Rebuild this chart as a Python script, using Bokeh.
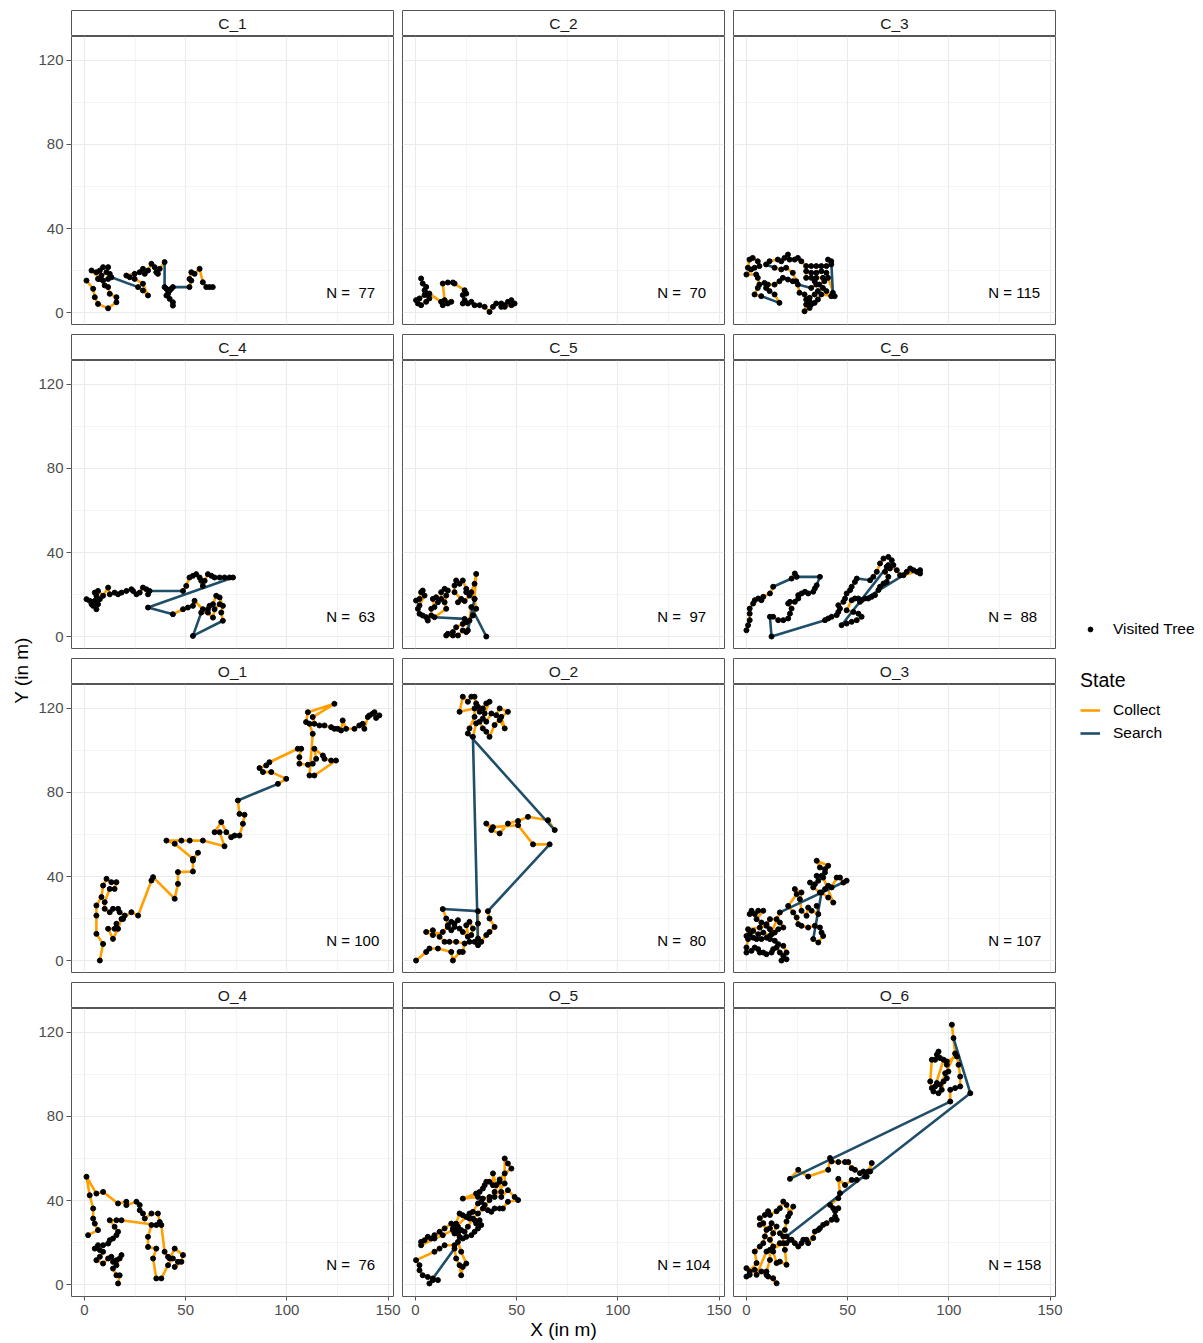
import numpy as np
from bokeh.plotting import figure
from bokeh.models import Range1d, FixedTicker, Legend, LegendItem
from bokeh.layouts import row, column
from bokeh.embed import file_html
from bokeh.resources import INLINE
from bokeh.core.properties import value

# ---------------- data ----------------
PANEL_NAMES = ["C_1", "C_2", "C_3", "C_4", "C_5", "C_6",
               "O_1", "O_2", "O_3", "O_4", "O_5", "O_6"]
N_TREES = [77, 70, 115, 63, 97, 88, 100, 80, 107, 76, 104, 158]
X_TICKS = [0, 50, 100, 150]
X_MINOR = [25, 75, 125]
Y_TICKS = [0, 40, 80, 120]
Y_MINOR = [20, 60, 100]
STATE_LABELS = ["Collect", "Search"]
POINT_LABEL = "Visited Tree"

# tracks: x, y of visited trees in order; *_search = indices i where the step i -> i+1 is "Search"
C1_x = [1.0,4.3,5.1,6.7,11.7,15.8,15.8,12.5,11.7,10.0,7.6,3.5,5.9,7.6,9.2,11.7,10.9,8.4,6.7,9.2,11.7,12.5,13.3,26.5,28.9,31.4,28.9,24.8,22.4,20.7,24.8,27.3,28.9,29.8,31.4,33.1,34.7,35.5,36.3,37.2,39.6,39.6,40.5,41.3,42.9,41.3,42.1,43.7,43.7,40.5,42.1,43.7,51.9,52.8,51.9,52.8,54.4,56.9,58.5,60.2,61.8,63.4]
C1_y = [15.2,11.3,7.3,4.1,2.0,4.9,7.3,8.9,12.1,12.9,16.0,20.0,19.2,20.0,21.6,21.6,19.2,17.6,16.0,15.2,16.0,18.4,16.8,12.1,10.5,8.1,13.7,16.0,16.8,17.6,18.4,19.2,20.8,18.4,20.0,23.2,21.6,19.2,18.4,20.8,24.0,12.1,11.3,10.5,11.3,8.9,6.5,3.3,4.9,8.1,10.5,12.1,12.1,15.2,16.0,19.2,18.4,20.8,14.4,12.1,12.1,12.1]
C1_search = [22, 40, 51]

C2_x = [2.8,3.6,5.3,4.5,6.1,4.5,2.0,0.3,1.2,2.8,5.3,6.9,6.1,6.9,12.7,13.5,16.0,17.7,14.4,13.5,16.0,18.5,19.3,24.3,25.1,23.4,24.3,23.4,25.9,27.6,29.2,31.7,34.2,36.6,38.3,39.9,42.4,44.1,45.7,47.4,49.0,47.4,44.1,42.4]
C2_y = [16.2,13.8,12.2,10.6,9.0,8.3,6.7,5.9,4.3,3.5,5.1,6.7,8.3,9.0,5.1,3.5,4.3,5.1,5.9,13.8,14.3,14.3,13.8,10.6,9.0,8.3,5.9,4.3,4.3,5.1,3.5,3.5,2.7,0.3,2.7,4.3,4.3,3.5,5.1,5.9,4.3,3.5,2.7,2.7]
C2_search = []

C3_x = [0.7,1.5,3.1,5.6,6.4,4.0,2.3,0.0,4.8,5.6,6.4,5.6,4.0,7.3,16.3,13.9,11.4,9.7,8.9,10.6,13.9,16.3,18.0,20.5,22.9,24.6,22.9,19.6,17.2,13.9,9.7,11.4,15.5,17.2,18.8,20.5,21.3,23.8,25.4,27.1,29.5,32.0,34.5,37.0,39.5,41.9,40.3,41.9,42.7,41.9,39.5,37.8,35.3,33.7,31.2,29.5,28.7,26.2,25.4,32.0,34.5,33.7,36.0,38.5,37.8,34.5,32.0,29.5,29.5,32.0,34.5,37.0,39.5,40.3,43.6,37.0,35.3,33.7,32.0,31.2,28.7,29.5,31.2]
C3_y = [21.3,25.2,26.0,24.4,22.1,21.3,20.5,18.1,18.1,16.5,13.3,11.7,8.6,7.8,4.6,8.6,10.2,11.7,14.1,13.3,13.3,14.9,16.5,15.7,14.9,14.9,18.9,21.3,20.5,21.3,22.9,24.4,25.2,24.4,26.0,27.6,25.2,25.2,26.0,24.4,22.1,22.1,22.1,22.1,22.1,22.9,25.2,24.4,9.4,7.8,10.2,11.7,10.2,8.6,7.0,6.2,8.6,9.4,13.3,11.7,13.3,14.9,13.3,14.9,16.5,16.5,16.5,16.5,19.7,18.9,18.9,19.7,18.9,16.5,7.8,8.6,6.2,4.6,3.8,2.2,0.6,3.8,5.4]
C3_search = [13, 29, 47, 58]

C4_x = [1.0,2.6,3.5,4.3,5.9,6.7,5.1,7.6,5.9,5.1,6.7,9.2,11.7,12.5,14.9,16.6,18.3,20.7,23.2,24.0,25.7,27.3,28.9,30.6,31.4,32.2,48.7,50.3,51.9,53.6,55.2,56.9,57.7,58.5,59.4,61.0,62.7,64.3,66.8,69.2,71.7,73.4,31.4,43.7,48.7,51.1,53.6,54.4,58.5,61.0,61.8,63.5,65.1,66.8,68.4,67.6,68.4,53.6,57.7,61.0,63.5,64.3,66.8]
C4_y = [17.8,17.0,15.4,14.6,13.0,15.4,17.0,17.8,19.4,20.9,21.7,19.4,23.3,20.1,20.9,20.1,20.9,21.7,22.5,21.7,20.1,20.9,23.3,22.5,20.1,21.7,21.7,24.1,28.1,28.9,29.7,28.1,26.5,24.1,26.5,29.7,28.9,28.1,28.1,28.1,28.1,28.1,13.8,10.6,13.0,13.8,14.6,17.0,13.0,13.0,14.6,15.4,19.4,18.6,14.6,11.4,7.5,0.3,11.4,11.4,9.0,13.0,15.4]
C4_search = [25, 41, 42, 56, 57]

C5_x = [0.3,2.0,2.8,3.6,4.5,2.0,1.2,2.0,3.6,5.3,6.1,7.8,7.8,9.4,8.6,10.2,11.1,12.7,12.7,14.4,16.0,15.2,14.4,15.2,9.4,24.3,25.1,23.4,20.1,18.5,16.0,15.2,18.5,21.0,23.4,25.1,26.7,28.4,30.0,29.2,27.6,25.1,25.1,23.4,21.8,20.1,19.3,19.3,22.6,21.0,24.3,26.7,29.2,30.0,29.2,25.9,27.6,35.0]
C5_y = [17.1,17.9,21.1,21.9,19.5,14.8,13.2,10.8,10.0,9.2,7.6,10.0,13.2,14.0,17.9,18.7,16.3,17.9,21.1,22.7,21.9,19.5,16.3,13.2,9.2,8.4,6.8,6.0,4.4,2.1,1.3,0.5,0.5,0.5,2.9,2.1,7.6,10.0,13.2,17.9,21.1,21.1,22.7,26.7,25.1,26.7,24.3,21.1,17.9,16.3,16.9,19.5,25.1,29.8,17.9,2.9,14.0,0.0]
C5_search = [24, 54, 56]

C6_x = [0.0,0.8,1.6,1.6,1.6,3.3,4.1,5.8,7.4,8.3,11.6,13.2,22.3,23.9,24.8,36.3,34.7,33.8,33.0,30.5,28.9,27.2,25.6,25.6,23.9,21.5,20.6,22.3,21.5,20.6,18.2,15.7,13.2,11.6,12.4,38.8,40.4,42.1,44.6,45.4,46.2,45.4,47.9,48.7,49.5,51.2,52.0,53.6,54.5,61.1,62.7,64.4,66.0,67.7,70.1,71.8,72.6,70.9,69.3,68.5,70.1,69.3,67.7,66.0,65.2,63.5,61.9,60.2,58.6,56.9,55.3,53.6,52.0,49.5,52.8,55.3,56.9,54.5,52.0,49.5,47.0,70.1,74.3,75.9,79.2,80.9,82.5,84.2,85.8,85.8,77.6,56.1]
C6_y = [3.0,5.4,7.8,10.9,13.3,15.7,17.3,18.1,17.3,18.9,20.5,23.7,27.6,30.0,28.4,28.4,24.4,22.9,21.3,20.5,21.3,20.5,19.7,18.1,16.5,16.5,15.7,13.3,10.9,8.6,7.8,7.8,9.4,9.4,0.0,7.8,8.6,9.4,10.2,11.7,13.3,14.9,16.5,18.1,20.5,22.1,23.7,26.0,27.6,26.8,28.4,30.8,34.8,37.1,37.9,36.3,34.0,32.4,33.2,30.8,28.4,26.0,25.2,23.7,22.1,19.7,18.9,18.1,18.1,17.3,18.1,18.1,17.3,12.5,11.7,10.9,9.4,7.8,7.0,6.2,5.4,34.0,31.6,29.2,30.8,32.4,31.6,30.8,30.0,31.6,29.2,16.5]
C6_search = [11, 14, 15, 33, 34, 48, 80, 90]

O1_x = [7.6,9.2,5.9,5.9,5.9,8.4,9.2,10.9,13.3,15.8,14.9,12.5,10.0,10.0,12.5,14.1,16.6,17.4,19.9,19.1,15.8,14.9,11.7,14.1,16.6,18.3,23.2,26.5,33.1,33.9,44.6,46.2,46.2,53.6,53.6,56.1,53.6,44.6,40.5,47.9,52.0,58.5,69.2,66.8,64.3,67.6,70.1,72.5,74.2,76.6,78.3,79.1,76.6,75.8,95.6,99.7,92.3,88.2,86.5,89.8,91.4,105.4,107.1,106.2,106.2,110.4,112.8,114.5,113.6,117.8,118.6,121.9,124.3,113.6,111.2,112.8,111.2,109.5,110.4,123.5,112.8,113.6,116.1,118.6,121.9,123.5,125.2,126.8,127.6,129.3,133.4,135.8,137.5,138.3,140.0,140.8,142.4,143.3,145.7,144.1]
O1_y = [0.0,7.9,12.7,21.4,26.2,30.2,35.7,38.9,37.3,37.3,34.1,34.1,27.8,24.6,23.0,24.6,24.6,23.0,21.4,19.8,17.5,15.1,15.1,10.3,15.1,19.8,23.0,21.4,38.1,39.7,29.4,36.5,42.1,42.4,47.6,51.3,48.4,55.6,57.1,57.1,57.1,57.1,54.4,61.1,61.1,65.9,61.1,58.7,59.5,59.5,65.1,69.4,69.8,76.2,84.1,86.5,89.7,89.7,91.6,92.9,94.4,100.8,100.8,96.8,93.7,93.2,93.7,96.0,100.8,97.6,96.0,95.2,95.2,88.1,88.1,107.9,112.7,113.5,118.2,122.2,115.9,112.7,111.9,111.9,111.1,110.3,110.3,109.5,114.3,110.3,110.3,111.9,112.7,110.3,115.9,116.7,117.5,118.2,116.7,115.5]
O1_search = [53]

O2_x = [0.3,5.3,6.9,11.1,17.7,18.5,21.8,23.4,24.3,20.1,16.8,14.4,11.9,8.6,5.3,8.6,13.5,16.0,17.7,19.3,21.8,23.4,25.9,27.6,28.4,26.7,25.1,26.7,29.2,30.9,
        28.4,30.0,31.7,33.3,35.0,36.6,39.1,41.6,44.1,42.4,45.7,41.6,39.9,37.5,35.0,33.3,34.2,36.6,35.0,33.3,31.7,30.9,30.0,29.2,27.6,25.9,23.4,21.8,29.2,29.2,26.7,25.9,
        68.8,65.5,55.6,50.7,45.7,41.6,37.5,35.0,38.3,50.7,58.1,66.3,
        35.8,36.6,39.1,36.6,35.0,32.5,30.9,30.9,30.9,13.5,15.2,16.0,17.7,19.3,21.0]
O2_y = [0.0,4.1,5.7,5.7,4.1,0.0,4.1,4.1,8.1,8.9,8.9,8.9,11.3,14.4,13.6,12.1,13.6,16.0,14.4,16.0,15.2,13.6,11.3,12.1,15.2,18.4,16.8,8.9,8.9,7.3,
        106.5,112.9,113.7,110.5,108.9,106.5,112.1,114.5,110.5,116.0,118.4,120.0,116.8,117.6,113.7,115.2,117.6,123.2,122.4,120.0,118.4,120.8,122.4,125.6,125.6,123.2,125.6,118.4,120.0,116.0,110.5,108.1,
        62.1,66.8,68.4,66.4,65.2,60.5,62.1,65.2,63.5,64.4,55.3,55.3,
        23.5,20.0,16.0,13.6,12.1,8.9,10.5,17.6,23.5,24.5,20.0,16.8,18.4,17.6,19.2]
O2_search = [29, 61, 73, 82]

O3_x = [1.6,2.5,4.1,5.8,8.3,5.0,7.4,9.9,11.6,12.4,14.0,15.7,18.2,16.5,14.9,11.6,9.9,6.6,0.8,0.0,0.8,0.0,0.0,2.5,4.1,5.8,6.6,8.3,9.9,12.4,13.2,14.9,16.5,18.2,19.8,17.3,19.8,18.2,15.7,14.0,11.6,9.9,7.4,5.0,3.3,1.6,3.3,5.8,8.3,11.6,16.5,49.5,47.9,46.2,44.6,42.1,40.4,38.8,36.3,33.0,31.4,33.8,35.5,34.7,37.1,38.8,38.8,36.3,34.7,40.4,37.9,42.9,40.4,37.1,33.0,35.5,37.9,37.1,36.3,33.8,30.5,27.2,25.6,24.8,23.1,20.6,24.8,23.9,27.2,26.4,27.2,29.7,30.5,32.2,35.5,34.7]
O3_y = [22.1,23.7,22.1,23.7,23.7,19.7,18.1,17.3,14.9,12.5,13.3,14.9,15.7,18.1,19.7,19.7,16.5,15.7,14.9,11.7,10.2,6.2,3.8,4.6,6.2,5.4,3.8,3.8,3.0,3.8,5.4,6.2,3.8,2.2,0.6,0.0,3.8,7.0,7.8,9.4,10.2,10.9,10.2,10.2,10.9,12.5,14.1,12.5,13.3,11.7,22.9,38.0,37.1,39.5,39.5,34.8,35.6,34.0,32.4,34.8,37.1,36.3,38.0,40.3,40.3,41.9,43.5,44.3,47.5,45.1,39.5,27.6,30.0,32.4,10.2,8.6,11.7,13.3,15.7,16.5,15.7,16.5,17.3,20.5,22.9,26.0,31.6,34.0,32.4,29.2,23.7,21.3,25.2,23.7,22.1,26.0]
O3_search = [50, 73]

O4_x = [1.8,6.7,5.1,4.3,4.3,2.6,1.0,5.9,9.2,16.6,20.7,20.7,25.7,27.3,27.3,28.9,29.8,33.1,36.3,37.2,38.0,39.6,41.3,42.1,44.6,48.7,47.9,44.6,46.2,43.7,41.3,38.0,35.5,33.9,35.5,31.4,31.4,33.1,35.5,18.3,15.8,12.5,14.9,16.6,15.8,14.1,12.5,11.7,9.2,6.7,5.1,7.6,9.2,7.6,5.9,9.2,11.7,13.3,14.1,15.8,17.4,18.3,15.8,14.1,15.8,17.4,16.6]
O4_y = [23.5,25.9,29.0,31.4,36.2,42.5,51.3,43.3,44.1,38.6,39.4,37.8,39.4,37.8,35.4,33.8,31.4,33.8,33.8,29.8,28.3,15.6,13.2,12.4,17.1,14.0,10.8,8.4,10.8,12.4,9.2,2.9,2.9,12.4,17.1,17.9,22.7,28.3,28.3,30.6,30.6,30.6,27.5,25.1,23.5,21.9,21.1,19.5,18.7,18.7,17.1,16.4,15.6,13.2,11.6,10.0,12.4,13.2,10.8,11.6,12.4,14.0,9.2,7.6,4.4,4.4,0.5]
O4_search = []

O5_x = [19.3,14.4,11.9,9.4,0.3,2.0,2.0,3.6,6.1,11.1,8.6,6.9,8.6,19.3,20.1,21.8,22.6,23.4,25.1,22.6,21.0,21.8,23.4,25.1,27.6,29.2,30.9,30.0,31.7,32.5,29.2,26.7,25.1,23.4,21.8,20.1,19.3,18.5,19.3,21.0,21.8,17.7,14.4,11.9,9.4,7.8,6.1,4.5,2.8,2.8,9.4,13.5,18.5,26.7,28.4,30.9,32.5,34.2,35.8,37.5,39.1,41.6,43.2,45.7,50.7,49.0,45.7,42.4,42.4,41.6,39.9,38.3,38.3,36.6,35.0,34.2,33.3,31.7,30.0,23.4,30.9,33.3,36.6,39.1,44.1,44.1,45.7,47.4,44.1,41.6,39.1,36.6,33.3,30.9,28.4,25.9,24.3,22.6,21.0,19.3]
O5_y = [18.7,18.7,17.1,15.6,11.6,9.2,6.8,4.4,3.6,2.1,2.1,0.5,2.9,17.1,12.4,9.2,4.4,8.4,10.0,15.6,20.3,22.7,21.9,22.7,23.5,25.1,26.7,29.0,30.6,28.3,30.6,31.4,32.2,33.0,33.8,29.0,28.3,26.7,24.3,24.3,25.9,29.0,26.7,25.1,23.5,21.9,22.7,21.1,20.3,18.7,21.9,23.5,25.9,33.8,34.6,38.6,39.4,37.8,35.4,34.6,36.2,36.2,36.2,39.4,40.2,41.7,44.9,41.7,44.1,48.9,47.3,52.9,47.3,48.9,48.9,47.3,45.7,44.1,43.3,40.9,41.7,40.9,41.7,41.7,48.1,60.0,57.6,55.2,52.9,50.0,44.1,40.2,36.2,33.8,31.4,27.5,25.1,25.9,27.5,25.9]
O5_search = [12]

O6_x = [0.0,1.6,4.1,0.0,1.6,5.0,4.1,6.6,8.3,9.1,9.9,8.3,6.6,9.1,10.7,11.6,14.9,16.5,18.2,19.8,21.5,20.6,23.1,19.8,19.0,16.5,18.2,18.2,19.0,19.8,16.5,14.9,13.2,11.6,11.6,9.9,10.7,14.9,13.2,9.9,7.4,5.0,9.9,22.3,23.9,25.6,27.2,28.1,29.7,30.5,33.0,33.8,35.5,36.3,37.9,39.6,42.1,44.6,43.8,43.8,45.4,42.9,41.3,45.4,46.2,45.4,48.7,52.0,54.5,58.6,61.1,61.9,60.2,59.4,57.8,56.1,53.6,52.0,50.3,48.7,45.4,42.1,41.3,40.4,30.5,25.6,21.5,100.7,100.7,103.1,105.6,105.6,104.8,104.0,99.0,99.0,99.8,98.2,99.0,97.4,96.5,94.9,92.4,91.6,90.8,91.6,93.2,94.1,94.9,95.7,97.4,93.2,94.1,95.7,103.1,101.5,102.3,110.6,19.8,21.5,19.8,16.5,13.2,11.6,13.2,14.9,12.4,11.6,6.6]
O6_y = [3.8,4.6,7.0,7.8,6.2,10.2,15.7,18.1,19.7,22.9,26.0,29.2,31.6,33.1,34.9,33.1,34.9,36.3,39.5,37.9,33.9,32.4,37.1,30.0,26.0,24.4,22.9,19.7,16.5,9.4,10.9,10.2,15.7,16.5,11.7,6.2,3.8,0.6,3.0,4.6,6.2,4.6,15.7,21.3,19.7,18.1,19.7,21.3,21.3,19.7,22.1,25.2,26.0,26.8,28.4,29.2,30.8,30.8,32.4,34.9,36.3,36.3,37.9,41.1,43.5,50.3,47.4,49.8,49.8,51.4,53.8,57.8,53.8,51.4,53.8,53.0,54.6,55.4,58.3,58.3,58.3,58.6,60.2,54.6,51.4,54.6,50.3,87.1,92.7,93.5,94.3,99.0,104.6,108.6,106.2,104.6,101.4,100.6,98.2,96.7,92.7,91.1,91.9,93.5,96.7,107.0,107.0,109.4,110.9,107.8,107.0,94.3,95.9,95.1,110.0,123.7,117.3,91.1,22.9,21.3,19.7,19.7,18.1,21.3,24.4,27.6,29.2,26.8,28.4]
O6_search = [86, 116, 117]

TRACKS = [(C1_x, C1_y, C1_search), (C2_x, C2_y, C2_search), (C3_x, C3_y, C3_search),
          (C4_x, C4_y, C4_search), (C5_x, C5_y, C5_search), (C6_x, C6_y, C6_search),
          (O1_x, O1_y, O1_search), (O2_x, O2_y, O2_search), (O3_x, O3_y, O3_search),
          (O4_x, O4_y, O4_search), (O5_x, O5_y, O5_search), (O6_x, O6_y, O6_search)]

# ---------------- style ----------------
FONT = "Liberation Sans"
COLORS = {"Collect": "#FFA000", "Search": "#1F4E69"}
LINE_W = 2.6
PT_SIZE = 5
BORDER = "#555555"
GRID = "#EBEBEB"

XLO, XHI = -6.4, 152.7
YLO, YHI = -5.7, 131.4
FW, FH, SH = 322, 288, 26
YLAB_W = 34
LEFT0 = 37          # room for y tick labels in the first column
COLGAP = 9          # gap between columns (right border of each column)
GAP = 10
TOP0 = 10
BOTTOM_LAST = 47
TOTAL_H = TOP0 + 4 * SH + 3 * (FH + GAP) + FH + BOTTOM_LAST


def runs(xs, ys, search):
    sset = set(search)
    out = {"Collect": ([], []), "Search": ([], [])}
    n = len(xs)
    i = 0
    while i < n - 1:
        st = "Search" if i in sset else "Collect"
        j = i
        while j < n - 1 and (("Search" if j in sset else "Collect") == st):
            j += 1
        out[st][0].append(list(xs[i:j + 1]))
        out[st][1].append(list(ys[i:j + 1]))
        i = j
    return out


def make_panel(i):
    r, c = divmod(i, 3)
    last = r == 3
    p = figure(frame_width=FW, frame_height=FH,
               x_range=Range1d(XLO, XHI), y_range=Range1d(YLO, YHI),
               x_axis_location="below" if last else None,
               y_axis_location="left" if c == 0 else None,
               output_backend="svg", toolbar_location=None,
               min_border_left=LEFT0 if c == 0 else 0, min_border_right=COLGAP,
               min_border_top=0, min_border_bottom=BOTTOM_LAST if last else GAP)
    p.background_fill_color = "white"
    p.border_fill_color = "white"
    p.outline_line_color = BORDER
    p.outline_line_width = 1
    p.xgrid.ticker = FixedTicker(ticks=X_TICKS, minor_ticks=X_MINOR)
    p.ygrid.ticker = FixedTicker(ticks=Y_TICKS, minor_ticks=Y_MINOR)
    p.grid.grid_line_color = GRID
    p.grid.grid_line_width = 1.1
    p.grid.minor_grid_line_color = GRID
    p.grid.minor_grid_line_width = 0.55
    if c == 0:
        ya = p.yaxis[0]
        ya.ticker = FixedTicker(ticks=Y_TICKS)
        ya.axis_line_color = None
        ya.major_tick_line_color = BORDER
        ya.major_tick_out = 5
        ya.major_tick_in = 0
        ya.minor_tick_out = 0
        ya.minor_tick_in = 0
        ya.major_label_standoff = 3
        ya.major_label_text_font = FONT
        ya.major_label_text_font_size = "15px"
        ya.major_label_text_color = "#4D4D4D"
    if last:
        xa = p.xaxis[0]
        xa.ticker = FixedTicker(ticks=X_TICKS)
        xa.axis_line_color = None
        xa.major_tick_line_color = BORDER
        xa.major_tick_out = 4
        xa.major_tick_in = 0
        xa.minor_tick_out = 0
        xa.minor_tick_in = 0
        xa.major_label_standoff = 4
        xa.major_label_text_font = FONT
        xa.major_label_text_font_size = "15px"
        xa.major_label_text_color = "#4D4D4D"
        if c == 1:
            xa.axis_label = "X (in m)"
            xa.axis_label_text_font = FONT
            xa.axis_label_text_font_size = "19px"
            xa.axis_label_text_font_style = "normal"
            xa.axis_label_text_color = "black"
            xa.axis_label_standoff = 1

    xs, ys, search = TRACKS[i]
    segs = runs(xs, ys, search)
    for st in STATE_LABELS:
        if segs[st][0]:
            p.multi_line(xs=segs[st][0], ys=segs[st][1], line_color=COLORS[st],
                         line_width=LINE_W, line_join="round", line_cap="round")
    p.scatter(x=xs, y=ys, size=PT_SIZE, fill_color="black", line_color="black")

    n = N_TREES[i]
    s = str(n)
    lab = "N = " + "\u00a0" * (3 - len(s)) + s
    p.text(x=[119.5], y=[9.5], text=[lab], text_font=value(FONT),
           text_font_size="15px", text_align="left", text_baseline="middle",
           text_color="black")
    return p


def make_strip(i):
    r, c = divmod(i, 3)
    s = figure(frame_width=FW, frame_height=SH,
               x_range=Range1d(0, 1), y_range=Range1d(0, 1),
               x_axis_location=None, y_axis_location=None,
               output_backend="svg", toolbar_location=None,
               min_border_left=LEFT0 if c == 0 else 0, min_border_right=COLGAP,
               min_border_top=TOP0 if r == 0 else 0, min_border_bottom=0)
    s.grid.visible = False
    s.background_fill_color = "white"
    s.border_fill_color = "white"
    s.outline_line_color = BORDER
    s.outline_line_width = 1
    s.text(x=[0.5], y=[0.5], text=[PANEL_NAMES[i]], text_font=value(FONT),
           text_font_size="15.5px", text_align="center", text_baseline="middle",
           text_color="#1A1A1A")
    return s


# y axis title
ylab = figure(width=YLAB_W, height=TOTAL_H, x_range=Range1d(0, YLAB_W), y_range=Range1d(0, TOTAL_H),
              x_axis_location=None, y_axis_location=None, min_border=0,
              output_backend="svg", toolbar_location=None)
ylab.grid.visible = False
ylab.outline_line_color = None
ylab.text(x=[21], y=[TOTAL_H - 670], text=["Y (in m)"], angle=np.pi / 2,
          text_font=value(FONT), text_font_size="19px", text_align="center",
          text_baseline="middle", text_color="black")

# legend area
LG_LEFT = YLAB_W + (LEFT0 + FW + COLGAP) + 2 * (FW + COLGAP)   # screen x of legend figure
LW = 1199 - LG_LEFT
lg = figure(width=LW, height=TOTAL_H, x_range=Range1d(0, 1), y_range=Range1d(0, 1),
            x_axis_location=None, y_axis_location=None, min_border=0,
            output_backend="svg", toolbar_location=None)
lg.grid.visible = False
lg.outline_line_color = None
# keys only: their data sit outside the visible range
r_pt = lg.scatter(x=[-5], y=[-5], size=PT_SIZE, fill_color="black", line_color="black")
r_c = lg.line(x=[-5, -4], y=[-5, -5], line_color=COLORS["Collect"], line_width=LINE_W)
r_s = lg.line(x=[-5, -4], y=[-5, -5], line_color=COLORS["Search"], line_width=LINE_W)

bottom_screen = TOTAL_H
leg1 = Legend(items=[LegendItem(label=POINT_LABEL, renderers=[r_pt])],
              location=(1084 - LG_LEFT, bottom_screen - 639), padding=0, margin=0,
              glyph_width=12, glyph_height=12, label_height=20, label_standoff=17,
              label_text_font=FONT, label_text_font_size="15.5px", label_text_color="black",
              border_line_color=None, background_fill_alpha=0)
leg2 = Legend(items=[LegendItem(label=STATE_LABELS[0], renderers=[r_c]),
                     LegendItem(label=STATE_LABELS[1], renderers=[r_s])],
              location=(1080 - LG_LEFT, bottom_screen - 743), padding=0, margin=0,
              title="State", title_text_font=FONT, title_text_font_size="19.5px",
              title_text_font_style="normal", title_text_color="black", title_standoff=8,
              glyph_width=20, glyph_height=20, label_height=20, label_standoff=13, spacing=3,
              label_text_font=FONT, label_text_font_size="15.5px", label_text_color="black",
              border_line_color=None, background_fill_alpha=0)
lg.add_layout(leg1)
lg.add_layout(leg2)

children = []
for r in range(4):
    children.append(row(*[make_strip(3 * r + c) for c in range(3)]))
    children.append(row(*[make_panel(3 * r + c) for c in range(3)]))
grid = column(*children)
layout = row(ylab, grid, lg)

open("out.html", "w").write(file_html(layout, INLINE, title="Tracks"))
